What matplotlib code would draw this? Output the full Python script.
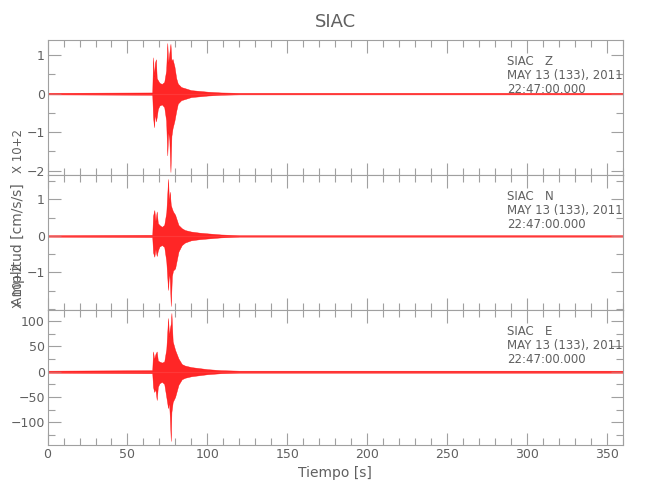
import matplotlib
matplotlib.use("Agg")
import matplotlib.pyplot as plt
from matplotlib.ticker import MultipleLocator, FixedLocator

# envelope of each trace (time [s], upper, lower)
t_z = [0, 65.5, 66.0, 66.6, 67.2, 67.8, 68.3, 69.0, 70.0, 71.5, 73.0, 74.2, 74.9, 75.5,
       76.2, 76.9, 77.5, 78.2, 79.4, 80.5, 81.5, 83.6, 86.0, 89.8, 95.0, 100.2, 108.5, 120, 360]
up_z = [0.02, 0.03, 0.94, 0.45, 0.80, 0.89, 0.40, 0.35, 0.28, 0.25, 0.30, 0.60, 1.31, 0.80,
        1.05, 1.29, 0.85, 0.90, 0.70, 0.40, 0.26, 0.17, 0.14, 0.09, 0.07, 0.05, 0.03, 0.02, 0.02]
lo_z = [-0.02, -0.03, -0.60, -0.87, -0.50, -0.72, -0.61, -0.40, -0.31, -0.28, -0.35, -0.70, -1.60, -1.00,
        -1.20, -2.03, -1.10, -0.90, -0.70, -0.45, -0.26, -0.17, -0.14, -0.09, -0.07, -0.05, -0.03, -0.02, -0.02]

t_n = [0, 65.5, 66.0, 66.8, 67.5, 68.3, 69.0, 70.0, 71.5, 73.0, 74.3, 75.4, 76.0, 76.5,
       77.1, 77.8, 78.5, 79.8, 81.9, 84.0, 86.0, 89.8, 95.0, 100.2, 108.5, 120, 360]
up_n = [0.02, 0.03, 0.55, 0.71, 0.40, 0.67, 0.35, 0.30, 0.25, 0.30, 0.65, 1.56, 0.90, 1.21,
        0.85, 0.75, 0.67, 0.58, 0.30, 0.21, 0.16, 0.12, 0.09, 0.07, 0.04, 0.02, 0.02]
lo_n = [-0.02, -0.03, -0.45, -0.57, -0.35, -0.55, -0.40, -0.29, -0.25, -0.30, -0.70, -1.48, -1.00, -1.20,
        -1.92, -1.10, -0.95, -0.89, -0.43, -0.25, -0.18, -0.12, -0.09, -0.07, -0.04, -0.02, -0.02]

t_e = [0, 65.5, 66.0, 66.7, 67.5, 68.3, 69.0, 70.0, 71.5, 73.0, 74.3, 75.4, 76.0, 76.5,
       77.1, 77.5, 78.3, 79.8, 81.9, 84.0, 86.0, 90.0, 95.0, 100.0, 108.5, 120, 360]
up_e = [2, 3, 40, 25, 35, 40, 22, 20, 18, 20, 45, 106, 70, 85,
        95, 116, 60, 43, 26, 15, 12, 9, 7, 5, 3, 2, 2]
lo_e = [-2, -3, -30, -40, -35, -56, -30, -23, -20, -24, -50, -72, -60, -90,
        -137, -80, -60, -50, -26, -15, -12, -9, -7, -5, -3, -2, -2]

station = "SIAC"
components = ["Z", "N", "E"]
date_line = "MAY 13 (133), 2011"
time_line = "22:47:00.000"
ylims = [(-2.11, 1.39), (-2.03, 1.67), (-145, 122)]
y_ticks = [[-2, -1, 0, 1], [-1, 0, 1], [-100, -50, 0, 50, 100]]
y_minor = [0.5, 0.5, 25]
scaled = [True, True, False]

plt.rcParams["font.family"] = ["DejaVu Sans"]

txt = "#606060"
axc = "#a0a0a0"

fig = plt.figure(figsize=(6.5, 5), dpi=100)
left, width, h = 0.0732, 0.885, 0.27
bottoms = [0.65, 0.38, 0.11]
traces = [(t_z, up_z, lo_z), (t_n, up_n, lo_n), (t_e, up_e, lo_e)]

axes = []
for i, (tt, up, lo) in enumerate(traces):
    ax = fig.add_axes([left, bottoms[i], width, h])
    ax.fill_between(tt, lo, up, color="#ff0000", alpha=0.85, linewidth=0.3)
    ax.plot(tt, [0] * len(tt), color="#ff4040", lw=0.8, alpha=0.7)
    ax.set_xlim(0, 360)
    ax.set_ylim(*ylims[i])
    ax.xaxis.set_major_locator(MultipleLocator(50))
    ax.xaxis.set_minor_locator(MultipleLocator(10))
    ax.yaxis.set_major_locator(FixedLocator(y_ticks[i]))
    ax.yaxis.set_minor_locator(MultipleLocator(y_minor[i]))
    ax.tick_params(which="both", direction="in", top=True, right=True,
                   colors=axc, labelcolor=txt, labelsize=9, pad=2, width=0.8)
    ax.tick_params(which="major", length=9)
    ax.tick_params(which="minor", length=5)
    for s in ax.spines.values():
        s.set_color(axc)
        s.set_linewidth(0.8)
    if i < 2:
        ax.tick_params(labelbottom=False)
    for k, line in enumerate([f"{station}   {components[i]}", date_line, time_line]):
        ax.text(0.798, 0.84 - 0.105 * k, line, transform=ax.transAxes,
                fontsize=8.5, color=txt, va="center")
    if scaled[i]:
        fig.text(19 / 650, (500 - (175 + 135 * i - 24)) / 500, "X 10+2", rotation=90,
                 fontsize=8.5, color=txt, ha="center", va="center")
    axes.append(ax)

fig.text(335 / 650, 1 - 22 / 500, station, fontsize=13, color=txt, ha="center", va="center")
fig.text(18 / 650, 1 - 245 / 500, "Amplitud [cm/s/s]", rotation=90,
         fontsize=10, color=txt, ha="center", va="center")
axes[-1].set_xlabel("Tiempo [s]", fontsize=10, color=txt, labelpad=4)

fig.savefig("out.png", dpi=100)
